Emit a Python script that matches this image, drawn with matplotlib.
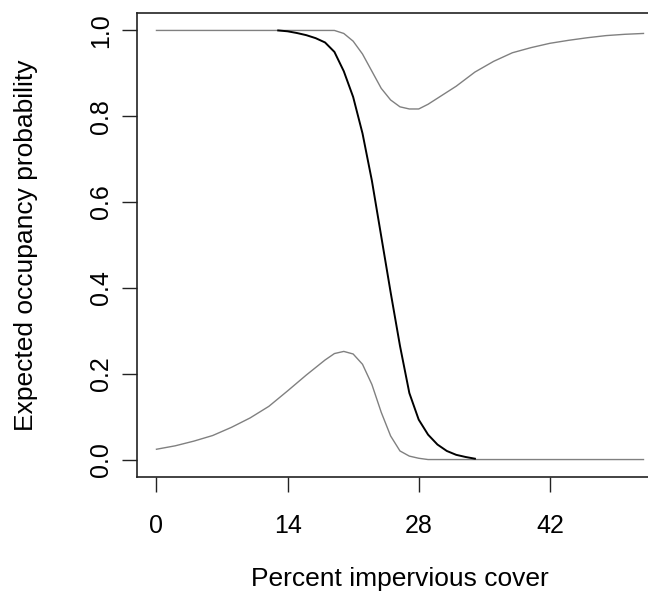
import matplotlib
matplotlib.use("Agg")
import matplotlib.pyplot as plt

plt.rcParams['font.family'] = ['Liberation Sans', 'DejaVu Sans']

# upper bound (grey)
x_upper = [0, 19, 20, 21, 22, 23, 24, 25, 26, 27, 28, 29, 30, 31, 32, 34, 36, 38, 40, 42, 44, 46, 48, 50, 52]
y_upper = [1.0, 1.0, 0.993, 0.975, 0.945, 0.905, 0.865, 0.838, 0.822, 0.817, 0.817, 0.828, 0.842, 0.856,
           0.870, 0.903, 0.928, 0.948, 0.960, 0.970, 0.977, 0.983, 0.988, 0.991, 0.993]

# expected occupancy (black)
x_mean = [13, 14, 15, 16, 17, 18, 19, 20, 21, 22, 23, 24, 25, 26, 27, 28, 29, 30, 31, 32, 33, 34]
y_mean = [1.0, 0.998, 0.994, 0.989, 0.982, 0.972, 0.95, 0.905, 0.845, 0.76, 0.65, 0.52, 0.39, 0.265,
          0.155, 0.093, 0.058, 0.035, 0.02, 0.011, 0.006, 0.002]

# lower bound (grey)
x_lower = [0, 2, 4, 6, 8, 10, 12, 14, 16, 18, 19, 20, 21, 22, 23, 24, 25, 26, 27, 28, 29, 52]
y_lower = [0.024, 0.032, 0.043, 0.056, 0.075, 0.097, 0.124, 0.16, 0.197, 0.232, 0.247, 0.252, 0.246,
           0.222, 0.175, 0.11, 0.055, 0.02, 0.008, 0.003, 0.0, 0.0]

x_ticks = [0, 14, 28, 42]
y_ticks = [0.0, 0.2, 0.4, 0.6, 0.8, 1.0]

fig = plt.figure(figsize=(6.48, 6.01), dpi=100)
ax = fig.add_axes([0.2114, 0.2068, 0.8117, 0.7711])

ax.plot(x_upper, y_upper, color='#808080', lw=1.0)
ax.plot(x_lower, y_lower, color='#808080', lw=1.0)
ax.plot(x_mean, y_mean, color='black', lw=1.4)

# R style 4% padding
ax.set_xlim(-2.08, 54.08)
ax.set_ylim(-0.04, 1.04)

ax.set_xticks(x_ticks)
ax.set_xticklabels([str(t) for t in x_ticks])
ax.set_yticks(y_ticks)
ax.set_yticklabels(['%.1f' % t for t in y_ticks], rotation=90, va='center')

ax.tick_params(direction='out', length=11, width=1.0, labelsize=18, color='#222222')
ax.tick_params(axis='x', pad=16)
ax.tick_params(axis='y', pad=6)
for s in ax.spines.values():
    s.set_linewidth(1.2)
    s.set_color('#222222')

ax.set_xlabel('Percent impervious cover', fontsize=19, labelpad=21)
ax.set_ylabel('Expected occupancy probability', fontsize=19, labelpad=37)

fig.savefig('out.png', dpi=100)
